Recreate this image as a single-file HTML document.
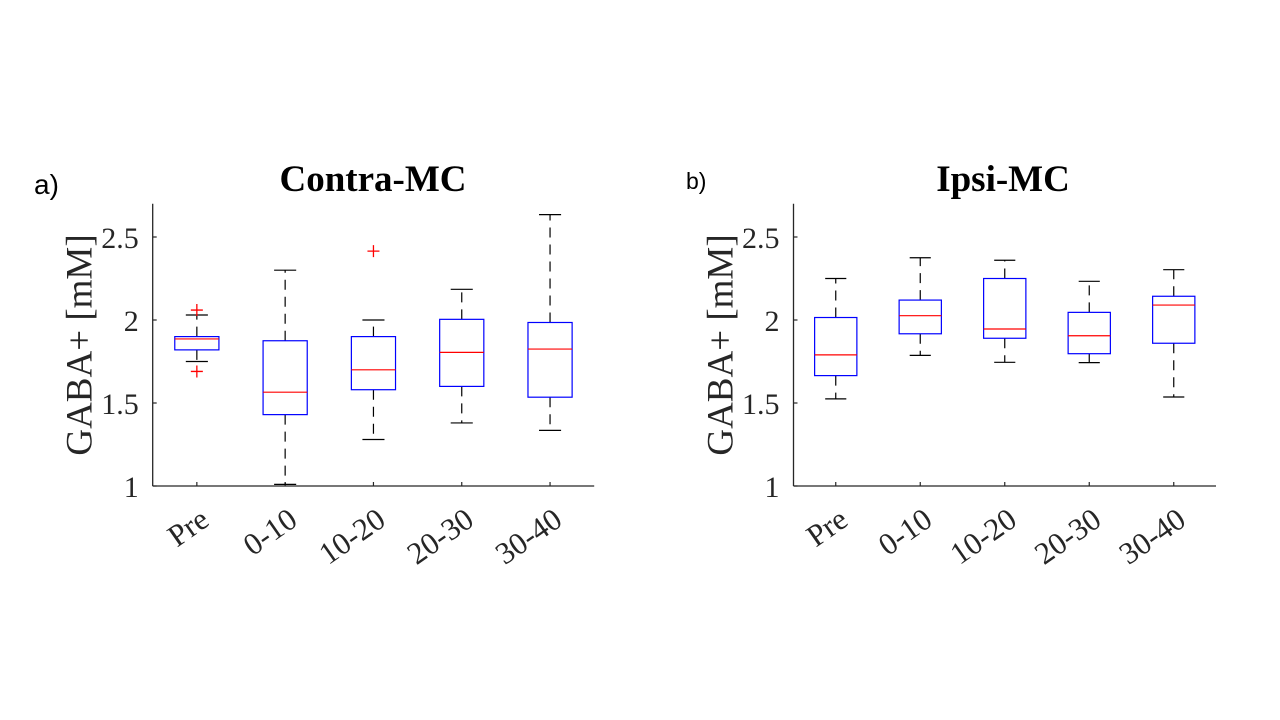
<!DOCTYPE html>
<html><head><meta charset="utf-8"><style>
html,body{margin:0;padding:0;background:#fff;}
svg{display:block;}
.tick{font-family:"Liberation Serif",serif;font-size:30px;fill:#262626;}
.xtick{font-family:"Liberation Serif",serif;font-size:31px;fill:#262626;}
</style></head>
<body>
<svg id="chart" width="1280" height="720" viewBox="0 0 1280 720" xmlns="http://www.w3.org/2000/svg">
<text x="34" y="194" font-family="Liberation Sans,sans-serif" font-size="28">a)</text>
<text x="686" y="189" font-family="Liberation Sans,sans-serif" font-size="23">b)</text>
<text x="373" y="191" text-anchor="middle" font-family="Liberation Serif,serif" font-weight="bold" font-size="37">Contra-MC</text>
<text x="1003" y="191" text-anchor="middle" font-family="Liberation Serif,serif" font-weight="bold" font-size="37">Ipsi-MC</text>
</svg>
<script>
const categories = ["Pre","0-10","10-20","20-30","30-40"];
// panel a (Contra-MC)
const aLow = [1.75,1.01,1.28,1.38,1.335];
const aQ1 = [1.82,1.43,1.58,1.60,1.535];
const aMed = [1.886,1.565,1.70,1.805,1.825];
const aQ3 = [1.90,1.875,1.90,2.004,1.985];
const aHigh = [2.03,2.30,2.00,2.185,2.635];
const aOutliers = [[0,2.06],[0,1.69],[2,2.415]];
// panel b (Ipsi-MC)
const bLow = [1.525,1.787,1.745,1.743,1.536];
const bQ1 = [1.665,1.917,1.89,1.797,1.86];
const bMed = [1.79,2.026,1.946,1.905,2.09];
const bQ3 = [2.015,2.12,2.25,2.046,2.143];
const bHigh = [2.25,2.375,2.36,2.233,2.303];
const bOutliers = [];
const yTicks = [1,1.5,2,2.5];
const yTickLabels = ["1","1.5","2","2.5"];

const svg = document.getElementById('chart');
const NS = 'http://www.w3.org/2000/svg';
function mk(tag, attrs){const e=document.createElementNS(NS,tag);for(const k in attrs)e.setAttribute(k,attrs[k]);svg.appendChild(e);return e;}

function panel(id, x0, x1, low, q1, med, q3, high, outl){
  const yb=486, ppu=166;
  const y = v => yb-(v-1)*ppu;
  const x = i => x0+(i+0.5)*(x1-x0)/5;
  const hw = 0.25*(x1-x0)/5;
  let e;
  e=mk('line',{x1:x0,y1:y(2.7),x2:x0,y2:yb,stroke:'#262626','stroke-width':1.3});
  
  
  e=mk('line',{x1:x0,y1:yb,x2:x1,y2:yb,stroke:'#262626','stroke-width':1.3});
  
  
  yTicks.forEach((t,k)=>{
    e=mk('line',{x1:x0,y1:y(t),x2:x0+4,y2:y(t),stroke:'#262626','stroke-width':1.2});
    
    
    e=mk('text',{x:x0-14,y:y(t)+11,'text-anchor':'end',class:'tick'});
    e.textContent=yTickLabels[k];
    
    
  });
  e=mk('text',{x:0,y:0,'text-anchor':'middle','font-family':'Liberation Serif,serif','font-size':37,fill:'#262626',transform:`translate(${x0-61},345) rotate(-90)`});
  e.textContent='GABA+ [mM]';
  
  
  categories.forEach((c,i)=>{
    const cx=x(i);
    e=mk('line',{x1:cx,y1:yb,x2:cx,y2:yb-4,stroke:'#262626','stroke-width':1.2});
    
    
    e=mk('text',{x:0,y:0,'text-anchor':'end',class:'xtick',transform:`translate(${cx+14},524) rotate(-35)`});
    e.textContent=c;
    
    
    e=mk('line',{x1:cx,y1:y(q3[i]),x2:cx,y2:y(high[i]),stroke:'#000','stroke-width':1.2,'stroke-dasharray':'10,7'});
    
    
    e=mk('line',{x1:cx,y1:y(q1[i]),x2:cx,y2:y(low[i]),stroke:'#000','stroke-width':1.2,'stroke-dasharray':'10,7'});
    
    
    e=mk('line',{x1:cx-hw/2,y1:y(high[i]),x2:cx+hw/2,y2:y(high[i]),stroke:'#000','stroke-width':1.2});
    
    
    e=mk('line',{x1:cx-hw/2,y1:y(low[i]),x2:cx+hw/2,y2:y(low[i]),stroke:'#000','stroke-width':1.2});
    
    
    e=mk('rect',{x:cx-hw,y:y(q3[i]),width:2*hw,height:y(q1[i])-y(q3[i]),fill:'#fff',stroke:'#0000ff','stroke-width':1.2});
    
    
    e=mk('line',{x1:cx-hw,y1:y(med[i]),x2:cx+hw,y2:y(med[i]),stroke:'#ff0000','stroke-width':1.2});
    
    
  });
  outl.forEach(o=>{
    const cx=x(o[0]), cy=y(o[1]);
    e=mk('path',{d:`M${cx-6},${cy}H${cx+6}M${cx},${cy-6}V${cy+6}`,stroke:'#ff0000','stroke-width':1.3,fill:'none'});
    
    
  });
}
panel('contra',152.7,594.2,aLow,aQ1,aMed,aQ3,aHigh,aOutliers);
panel('ipsi',793.5,1216,bLow,bQ1,bMed,bQ3,bHigh,bOutliers);
</script>
</body></html>
